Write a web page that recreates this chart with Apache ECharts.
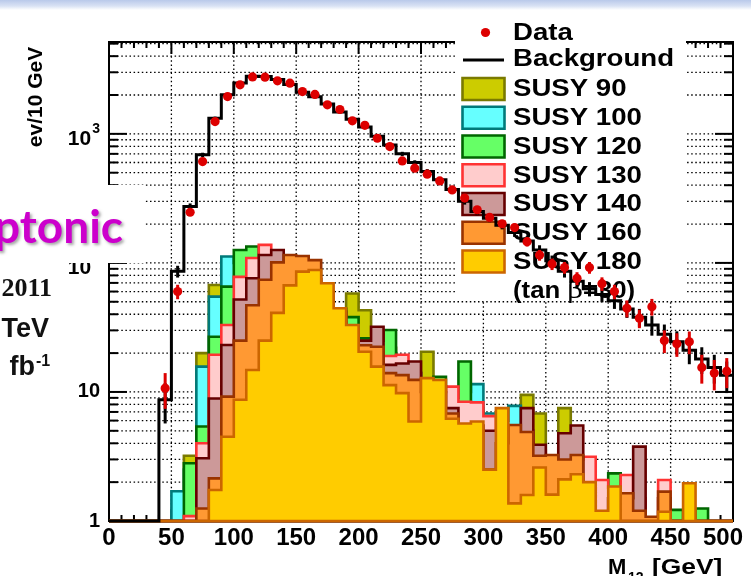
<!DOCTYPE html>
<html>
<head>
<meta charset="utf-8">
<title>M12 distribution</title>
<script src="https://cdn.jsdelivr.net/npm/echarts@6/dist/echarts.min.js"></script>
<style>
  html, body { margin: 0; padding: 0; background: #ffffff; }
  #chart { width: 751px; height: 576px; }
</style>
</head>
<body>
<div id="chart"></div>
<script>
// Dilepton invariant mass M12: data, SM background and SUSY signal points (10 GeV bins)
const binLow = [40, 50, 60, 70, 80, 90, 100, 110, 120, 130, 140, 150, 160, 170, 180, 190,
  200, 210, 220, 230, 240, 250, 260, 270, 280, 290, 300, 310, 320, 330, 340, 350, 360, 370,
  380, 390, 400, 410, 420, 430, 440, 450, 460, 470, 480, 490];
const BIN_WIDTH = 10;

const dataCounts = [10.7, 60, 247, 610, 1245, 1945, 2400, 2760, 2750, 2575, 2472, 2128, 2020,
  1678, 1545, 1262, 1165, 925, 797, 617, 542, 487, 432, 368, 318, 258, 225, 201, 188, 146, 115,
  98, 92, 76, 92, 69, 60, 44.5, 37.3, 45.8, 25, 23.6, 24.5, 15.5, 14, 14.5];
const dataErrors = [3.3, 7.7, 16, 25, 35, 44, 49, 53, 52, 51, 50, 46, 45, 41, 39, 36, 34, 30, 28,
  25, 23, 22, 21, 19, 18, 16, 15, 14, 14, 12, 11, 10, 9.6, 8.7, 9.6, 8.3, 7.7, 6.7, 6.1, 6.8, 5,
  4.9, 4.9, 3.9, 3.7, 3.8];

const bgCounts = [8.7, 86, 273, 688, 1324, 2005, 2473, 2800, 2780, 2640, 2410, 2100, 1935, 1700,
  1480, 1300, 1130, 960, 820, 700, 600, 510, 440, 370, 300, 250, 222, 196, 172, 148, 126, 104, 86,
  72, 63, 57, 51, 44, 38, 33, 28, 24.5, 21, 18, 15.5, 13.5];
const bgErrors = [3, 9, 16, 26, 36, 45, 50, 53, 53, 51, 49, 46, 44, 41, 38, 36, 34, 31, 29, 26, 24,
  23, 21, 19, 17, 16, 15, 14, 13, 12, 11, 10, 9, 8.5, 8, 7.5, 7, 6.5, 6, 5.7, 5.3, 5, 4.6, 4.2,
  3.9, 3.7];

const susy90 = [0, 0, 3.2, 20, 67.5, 95, 80, 75, 70, 65, 60, 55, 50, 45, 40, 58, 43, 28, 22, 15,
  12, 20.5, 11, 8, 10, 7.5, 5, 5, 5, 9.5, 6.8, 2, 7.5, 3, 2, 1.5, 1.5, 1, 1, 0, 0, 0, 0, 0, 0, 0];
const susy100 = [0, 1.7, 2.5, 15.7, 54.8, 112, 100, 90, 80, 70, 60, 52, 45, 40, 35, 30, 25, 22, 20,
  16, 14, 12, 11, 9, 10, 11.5, 6.8, 6, 7.8, 5, 3, 3, 3, 2.5, 2, 1.5, 1.5, 1.2, 1, 0, 0, 0, 0, 0, 0, 0];
const susy120 = [0, 0, 2.8, 5.4, 26.8, 65.5, 126, 134, 120, 105, 90, 80, 65, 55, 44, 38, 26, 25,
  30.2, 15, 14, 12, 13.1, 9, 17.2, 7, 4.5, 5, 5, 4, 3, 2.5, 3, 2.5, 2, 1.5, 2.34, 1.5, 1, 0, 0.8,
  1.22, 0, 1.25, 0, 0];
const susy130 = [0, 0, 1.09, 4.0, 19.4, 33, 78, 109, 138, 110, 90, 70, 55, 45, 35, 28, 22, 20, 19,
  19.4, 14, 11, 10, 11, 8.4, 8.3, 6.5, 5, 5, 5, 3.5, 3, 3.5, 3, 3.15, 2.08, 1.8, 2.27, 1.5, 0, 2.08,
  0, 0, 0, 0, 0];
const susy140 = [0, 0, 0, 3.06, 8.9, 23.1, 52, 76, 115, 126, 105, 90, 75, 60, 42, 30, 25, 32, 16.2,
  16.6, 17.2, 11, 10, 7.5, 5.5, 5.5, 5.0, 5, 4.5, 7.5, 3.9, 2.8, 4.78, 5.5, 1.9, 1.1, 1.5, 1.5, 3.77,
  1.0, 1.5, 0, 0, 0, 0, 0];
const susy160 = [0, 0, 0, 1.25, 2.14, 9.2, 25, 47, 74, 101, 115, 113, 105, 60, 40, 30, 23, 22.4, 14,
  13.5, 12.4, 10, 11, 6.8, 5, 5, 2.5, 4, 5.55, 4.9, 3.2, 3.25, 3.0, 3.25, 1.8, 1.1, 1.5, 1.64, 1.2,
  1.08, 1.69, 0, 0, 0, 0, 0];
const susy180 = [0, 0, 0, 0, 1.74, 4.5, 8.7, 14.8, 25, 41, 67, 85.6, 88, 69.6, 44.5, 33, 20.5, 15.7,
  11.3, 9.8, 5.9, 12.8, 12.4, 6.2, 5.7, 5.9, 2.5, 7.5, 1.37, 1.59, 2.6, 1.6, 2.1, 2.3, 2.0, 1.2, 1.85,
  1.0, 0, 0, 1.18, 0, 1.96, 0, 0, 0];

const signalNames = ['SUSY 90', 'SUSY 100', 'SUSY 120', 'SUSY 130', 'SUSY 140', 'SUSY 160', 'SUSY 180'];
const signalValues = [susy90, susy100, susy120, susy130, susy140, susy160, susy180];

const xTickLabels = [0, 50, 100, 150, 200, 250, 300, 350, 400, 450, 500];

// ---- styling ----
const signalFill = ['#cccc00', '#66ffff', '#66ff66', '#ffcccc', '#cc9999', '#ff9933', '#ffcc00'];
const signalLine = ['#7a7a00', '#007a7a', '#006600', '#ff3333', '#660000', '#993300', '#cc6600'];
const DATA_RED = '#dd0000';
const FONT = '"Liberation Sans", Arial, Helvetica, sans-serif';
const X_MIN = 0, X_MAX = 500, Y_MIN = 1, Y_MAX = 5150;

function isPow10(v) { const e = Math.log10(v); return Math.abs(e - Math.round(e)) < 1e-9; }
function yGridValues() {
  const out = [];
  for (let d = 1; d <= 1000; d *= 10) {
    for (let m = 1; m <= 9; m++) { const v = m * d; if (v > Y_MIN && v < Y_MAX) out.push(v); }
  }
  return out;
}

function line(a, b, style) {
  return { type: 'line', shape: { x1: a[0], y1: a[1], x2: b[0], y2: b[1] }, style: style };
}

// dotted grid: every 50 GeV vertically, every 1-9 x 10^n horizontally
function renderGridLines(params, api) {
  const dot = { stroke: '#000', lineWidth: 1.3, lineDash: [1.5, 2.6], fill: null };
  const children = [];
  yGridValues().forEach(v => children.push(line(api.coord([X_MIN, v]), api.coord([X_MAX, v]), dot)));
  for (let x = 50; x < X_MAX; x += 50) {
    children.push(line(api.coord([x, Y_MIN]), api.coord([x, Y_MAX]), dot));
  }
  return { type: 'group', children: children };
}

// frame with ticks on all four sides
function renderFrame(params, api) {
  const tl = api.coord([X_MIN, Y_MAX]);
  const br = api.coord([X_MAX, Y_MIN]);
  const tick = { stroke: '#000', lineWidth: 2 };
  const children = [{
    type: 'rect',
    shape: { x: tl[0], y: tl[1], width: br[0] - tl[0], height: br[1] - tl[1] },
    style: { fill: null, stroke: '#000', lineWidth: 2 }
  }];
  for (let x = 10; x < X_MAX; x += 10) {
    const len = x % 50 === 0 ? 12 : 6;
    const b = api.coord([x, Y_MIN]);
    const t = api.coord([x, Y_MAX]);
    children.push(line(b, [b[0], b[1] - len], tick));
    children.push(line(t, [t[0], t[1] + len], tick));
  }
  yGridValues().forEach(v => {
    const len = isPow10(v) ? 18 : 9;
    const l = api.coord([X_MIN, v]);
    const r = api.coord([X_MAX, v]);
    children.push(line(l, [l[0] + len, l[1]], tick));
    children.push(line(r, [r[0] - len, r[1]], tick));
  });
  return { type: 'group', children: children };
}

function stepPoints(api, values, closeToFloor) {
  const pts = [api.coord([X_MIN, Y_MIN]), api.coord([binLow[0], Y_MIN])];
  values.forEach((v, i) => {
    const y = Math.max(v, Y_MIN);
    pts.push(api.coord([binLow[i], y]));
    pts.push(api.coord([binLow[i] + BIN_WIDTH, y]));
  });
  if (closeToFloor) pts.push(api.coord([binLow[binLow.length - 1] + BIN_WIDTH, Y_MIN]));
  return pts;
}

const series = [];
const anchor = [[250, 10]];

series.push({ type: 'custom', name: 'grid', z: 1, silent: true, animation: false,
  data: anchor, renderItem: renderGridLines });
series.push({ type: 'custom', name: 'frame', z: 1, silent: true, animation: false,
  data: anchor, renderItem: (p, api) => { const g = renderFrame(p, api); g.z2 = 5; return g; } });

signalValues.forEach((vals, k) => {
  series.push({
    type: 'custom', name: signalNames[k], z: 2, silent: true, animation: false,
    data: anchor,
    renderItem: (p, api) => ({
      type: 'polygon', z2: k,
      shape: { points: stepPoints(api, vals, true) },
      style: { fill: signalFill[k], stroke: signalLine[k], lineWidth: 2.6, lineJoin: 'miter' }
    })
  });
});

series.push({
  type: 'custom', name: 'Background', z: 4, silent: true, animation: false,
  data: anchor,
  renderItem: (p, api) => {
    const children = [{
      type: 'polyline', shape: { points: stepPoints(api, bgCounts, false) },
      style: { fill: null, stroke: '#000', lineWidth: 3, lineJoin: 'miter' }
    }];
    bgCounts.forEach((v, i) => {
      const xc = binLow[i] + BIN_WIDTH / 2;
      const top = api.coord([xc, v + bgErrors[i]]);
      const bot = api.coord([xc, Math.max(v - bgErrors[i], Y_MIN)]);
      children.push(line(top, bot, { stroke: '#000', lineWidth: 3 }));
    });
    return { type: 'group', children: children };
  }
});

series.push({
  type: 'custom', name: 'Data', z: 5, silent: true, animation: false,
  data: dataCounts.map((v, i) => [binLow[i] + BIN_WIDTH / 2, v, dataErrors[i]]),
  renderItem: (p, api) => {
    const x = api.value(0), y = api.value(1), e = api.value(2);
    const c = api.coord([x, y]);
    const top = api.coord([x, y + e]);
    const bot = api.coord([x, Math.max(y - e, Y_MIN)]);
    return {
      type: 'group', children: [
        line([c[0], top[1]], [c[0], bot[1]], { stroke: DATA_RED, lineWidth: 3 }),
        { type: 'circle', shape: { cx: c[0], cy: c[1], r: 4.6 }, style: { fill: DATA_RED } }
      ]
    };
  }
});

// ---- overlays: legend, titles, slide text ----
const graphics = [];
graphics.push({
  type: 'rect', z: 0, shape: { x: 0, y: 0, width: 751, height: 10 },
  style: { fill: new echarts.graphic.LinearGradient(0, 0, 0, 1, [
    { offset: 0, color: '#b9c9ea' }, { offset: 0.6, color: '#d9e2f4' }, { offset: 1, color: '#ffffff' }]) }
});

// legend panel
graphics.push({ type: 'rect', z: 3, shape: { x: 455, y: 12, width: 231, height: 289 }, style: { fill: '#ffffff' } });
graphics.push({ type: 'circle', z: 3, shape: { cx: 485.5, cy: 32.5, r: 4.6 }, style: { fill: DATA_RED } });
graphics.push({ type: 'line', z: 3, shape: { x1: 463, y1: 60, x2: 504, y2: 60 }, style: { stroke: '#000', lineWidth: 3 } });
function legendText(txt, y) {
  return { type: 'text', z: 3, x: 513, y: y, scaleX: 1.2,
    style: { text: txt, x: 0, y: 0, fill: '#000', font: 'bold 23px ' + FONT,
      align: 'left', verticalAlign: 'middle', textAlign: 'left', textVerticalAlign: 'middle' } };
}
graphics.push(legendText('Data', 34));
graphics.push(legendText('Background', 60));
signalNames.forEach((name, k) => {
  const cy = 89 + 28.75 * k;
  graphics.push({ type: 'rect', z: 3, shape: { x: 462.5, y: cy - 11, width: 42, height: 22 },
    style: { fill: signalFill[k], stroke: signalLine[k], lineWidth: 2.6 } });
  graphics.push(legendText(name, cy + 1));
});
graphics.push({ type: 'text', z: 3, x: 513, y: 292, scaleX: 1.12,
  style: { text: '{a|(tan }{b|β}{a|=30)}', x: 0, y: 0, align: 'left', verticalAlign: 'middle',
    rich: { a: { font: 'bold 23px ' + FONT, fill: '#000', color: '#000' },
            b: { font: '24px "DejaVu Serif", serif', fill: '#000', color: '#000' } } } });

// axis titles
graphics.push({ type: 'text', z: 3, x: 36, y: 97, rotation: Math.PI / 2,
  style: { text: 'ev/10 GeV', x: 0, y: 0, fill: '#000', font: 'bold 21px ' + FONT,
    align: 'center', verticalAlign: 'middle', textAlign: 'center', textVerticalAlign: 'middle' } });
graphics.push({ type: 'text', z: 3, x: 608, y: 568,
  style: { text: 'M', x: 0, y: 0, fill: '#000', font: 'bold 22px ' + FONT, align: 'left', verticalAlign: 'middle' } });
graphics.push({ type: 'text', z: 3, x: 628, y: 578,
  style: { text: '12', x: 0, y: 0, fill: '#000', font: 'bold 14px ' + FONT, align: 'left', verticalAlign: 'middle' } });
graphics.push({ type: 'text', z: 3, x: 652, y: 568, scaleX: 1.2,
  style: { text: '[GeV]', x: 0, y: 0, fill: '#000', font: 'bold 22px ' + FONT, align: 'left', verticalAlign: 'middle' } });

// slide text overlapping the left side
graphics.push({ type: 'rect', z: 10, shape: { x: 0, y: 185, width: 145, height: 78 }, style: { fill: '#ffffff' } });
graphics.push({ type: 'text', z: 11, x: 123, y: 228,
  style: { text: 'ptonic', x: 0, y: 0, fill: '#cc00cc', font: 'bold 46px Lato, "Open Sans", sans-serif',
    align: 'right', verticalAlign: 'middle', textAlign: 'right', textVerticalAlign: 'middle',
    textShadowColor: 'rgba(0,0,0,0.35)', textShadowBlur: 3, textShadowOffsetX: 2, textShadowOffsetY: 2 } });
graphics.push({ type: 'text', z: 11, x: 52, y: 289,
  style: { text: '2011', x: 0, y: 0, fill: '#111', font: 'bold 26px "Liberation Serif", serif',
    align: 'right', verticalAlign: 'middle' } });
graphics.push({ type: 'text', z: 11, x: 49, y: 330,
  style: { text: 'TeV', x: 0, y: 0, fill: '#111', font: 'bold 27px ' + FONT,
    align: 'right', verticalAlign: 'middle' } });
graphics.push({ type: 'text', z: 11, x: 35, y: 368,
  style: { text: 'fb', x: 0, y: 0, fill: '#111', font: 'bold 27px ' + FONT,
    align: 'right', verticalAlign: 'middle' } });
graphics.push({ type: 'text', z: 11, x: 36, y: 362,
  style: { text: '-1', x: 0, y: 0, fill: '#111', font: 'bold 16px ' + FONT,
    align: 'left', verticalAlign: 'middle' } });

const chart = echarts.init(document.getElementById('chart'), null, { renderer: 'canvas' });
chart.setOption({
  backgroundColor: '#ffffff',
  animation: false,
  grid: { left: 109, top: 42, width: 624, height: 479, containLabel: false },
  xAxis: {
    type: 'value', min: X_MIN, max: X_MAX, interval: 50,
    axisLine: { show: false }, axisTick: { show: false }, splitLine: { show: false },
    axisLabel: {
      margin: 5, color: '#000', fontFamily: FONT, fontWeight: 'bold', fontSize: 24,
      formatter: v => (xTickLabels.indexOf(v) < 0 ? '' : (v === X_MAX ? '{r|' + v + '}' : String(v))),
      rich: { r: { fontFamily: FONT, fontWeight: 'bold', fontSize: 24, color: '#000', padding: [0, 20, 0, 0] } }
    }
  },
  yAxis: {
    type: 'log', logBase: 10, min: Y_MIN, max: Y_MAX,
    axisLine: { show: false }, axisTick: { show: false }, splitLine: { show: false },
    axisLabel: {
      margin: 9, color: '#000', fontFamily: FONT, fontWeight: 'bold', fontSize: 20,
      formatter: v => {
        if (!isPow10(v)) return '';
        const e = Math.round(Math.log10(v));
        if (e === 0) return '1';
        if (e === 1) return '10';
        return '{b|10}{s|' + e + '}';
      },
      rich: {
        b: { fontFamily: FONT, fontWeight: 'bold', fontSize: 21, color: '#000', padding: [10, 0, 0, 0] },
        s: { fontFamily: FONT, fontWeight: 'bold', fontSize: 14, color: '#000', padding: [0, 0, 10, 1] }
      }
    }
  },
  graphic: { elements: graphics },
  series: series
});
</script>
</body>
</html>
